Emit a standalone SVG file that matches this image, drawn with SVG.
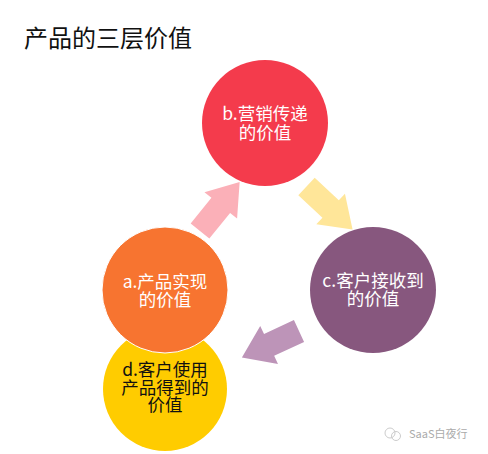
<svg xmlns="http://www.w3.org/2000/svg" width="488" height="454" viewBox="0 0 488 454">
<style>
.t{font-family:"Noto Sans CJK SC","Liberation Sans",sans-serif;font-size:17.5px;text-anchor:middle}
.w{fill:#ffffff}
.k{fill:#111111}
</style>
<defs>
<polygon id="arr" points="0,-12 33,-12 33,-21 63,0 33,21 33,12 0,12"/>
</defs>
<rect width="488" height="454" fill="#ffffff"/>
<text x="24" y="47" font-family="Noto Sans CJK SC,Liberation Sans,sans-serif" font-size="24" fill="#111111">产品的三层价值</text>
<g id="connectors">
<use href="#arr" fill="#FBB0B8" transform="translate(200,231) rotate(-51)"/>
<use href="#arr" fill="#FFE699" transform="translate(306.5,186.5) rotate(43)"/>
<use href="#arr" fill="#BD94B8" transform="translate(299,331) rotate(155)"/>
</g>
<g id="node-b">
<circle cx="265" cy="123" r="63" fill="#F43B4C"/>
<text class="t w" x="265" y="120">b.营销传递</text>
<text class="t w" x="265" y="139">的价值</text>
</g>
<g id="node-c">
<circle cx="373" cy="290" r="63" fill="#87577E"/>
<text class="t w" x="373" y="287">c.客户接收到</text>
<text class="t w" x="373" y="305">的价值</text>
</g>
<g id="node-d">
<circle cx="165" cy="389" r="62" fill="#FFCC00"/>
<text class="t k" x="165" y="376">d.客户使用</text>
<text class="t k" x="165" y="394">产品得到的</text>
<text class="t k" x="165" y="411">价值</text>
</g>
<g id="node-a">
<circle cx="165" cy="290" r="63" fill="#F77430" stroke="#ffffff" stroke-width="1"/>
<text class="t w" x="165" y="288">a.产品实现</text>
<text class="t w" x="165" y="306">的价值</text>
</g>
<g id="watermark">
<circle cx="390" cy="433" r="5" fill="none" stroke="#cccccc" stroke-width="1"/>
<circle cx="396" cy="436" r="4.5" fill="none" stroke="#cccccc" stroke-width="1"/>
<text x="409" y="438" font-family="Noto Sans CJK SC,Liberation Sans,sans-serif" font-size="11" fill="#aaaaaa">SaaS白夜行</text>
</g>
</svg>
